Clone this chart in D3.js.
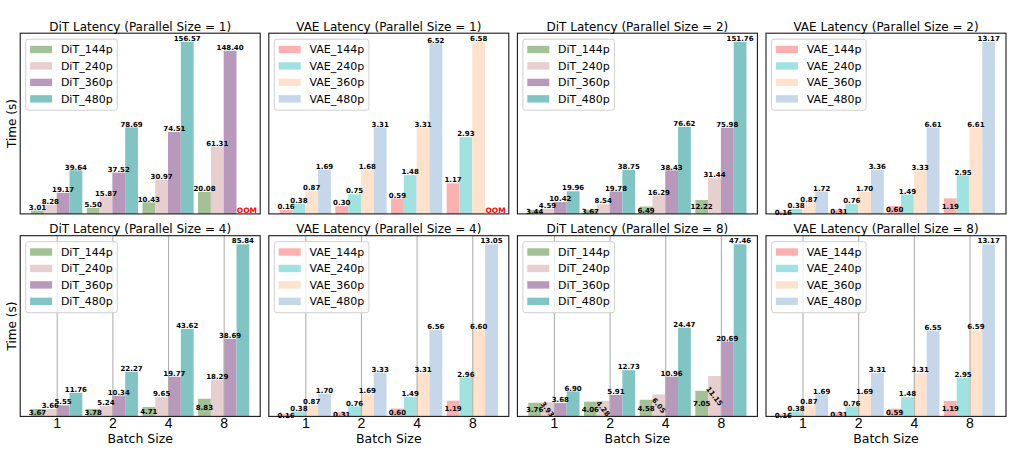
<!DOCTYPE html>
<html lang="en">
<head>
<meta charset="UTF-8" />
<title>DiT / VAE latency by parallel size</title>
<script src="https://d3js.org/d3.v7.min.js"></script>
<style>
  html, body { margin: 0; padding: 0; background: #fff; }
  svg { display: block; font-family: "DejaVu Sans", sans-serif; }
  .frame { fill: none; stroke: #1a1a1a; stroke-width: 1.1px; }
  .grid line { stroke: #b0b0b0; stroke-width: 1.1px; }
  .grid path { display: none; }
  .grid text { font-size: 14px; fill: #000; }
  .barlabel { font-size: 7px; font-weight: bold; fill: #000; }
  .oom { font-size: 7.5px; font-weight: bold; fill: #ff0000; }
</style>
</head>
<body>
<svg id="chart"></svg>
<script>
// ---- data: rows = resolution, columns = batch size ----
const batchSizes = ["1", "2", "4", "8"];
const resolutions = ["144p", "240p", "360p", "480p"];
const parallelSizes = [1, 2, 4, 8];

const ditColors = ["#a2c194", "#e8cfcf", "#b898bb", "#80c4c4"];
const vaeColors = ["#fcb1b0", "#9fe2df", "#fee2cc", "#c5d7e8"];

// null = out of memory
const ditP1 = [[3.01, 5.50, 10.43, 20.08], [8.28, 15.87, 30.97, 61.31], [19.17, 37.52, 74.51, 148.40], [39.64, 78.69, 156.57, null]];
const vaeP1 = [[0.16, 0.30, 0.59, 1.17], [0.38, 0.75, 1.48, 2.93], [0.87, 1.68, 3.31, 6.58], [1.69, 3.31, 6.52, null]];
const ditP2 = [[3.44, 3.67, 6.49, 12.22], [4.59, 8.54, 16.29, 31.44], [10.42, 19.78, 38.43, 75.98], [19.96, 38.75, 76.62, 151.76]];
const vaeP2 = [[0.16, 0.31, 0.60, 1.19], [0.38, 0.76, 1.49, 2.95], [0.87, 1.70, 3.33, 6.61], [1.72, 3.36, 6.61, 13.17]];
const ditP4 = [[3.67, 3.78, 4.71, 8.83], [3.66, 5.24, 9.65, 18.29], [5.55, 10.34, 19.77, 38.69], [11.76, 22.27, 43.62, 85.84]];
const vaeP4 = [[0.16, 0.31, 0.60, 1.19], [0.38, 0.76, 1.49, 2.96], [0.87, 1.69, 3.31, 6.60], [1.70, 3.33, 6.56, 13.05]];
const ditP8 = [[3.76, 4.06, 4.58, 7.05], [3.93, 4.28, 6.05, 11.15], [3.68, 5.91, 10.96, 20.69], [6.90, 12.73, 24.47, 47.46]];
const vaeP8 = [[0.16, 0.31, 0.59, 1.19], [0.38, 0.76, 1.48, 2.95], [0.87, 1.69, 3.31, 6.59], [1.69, 3.31, 6.55, 13.17]];

const panels = [
  { model: "DiT", p: parallelSizes[0], values: ditP1 },
  { model: "VAE", p: parallelSizes[0], values: vaeP1 },
  { model: "DiT", p: parallelSizes[1], values: ditP2 },
  { model: "VAE", p: parallelSizes[1], values: vaeP2 },
  { model: "DiT", p: parallelSizes[2], values: ditP4 },
  { model: "VAE", p: parallelSizes[2], values: vaeP4 },
  { model: "DiT", p: parallelSizes[3], values: ditP8 },
  { model: "VAE", p: parallelSizes[3], values: vaeP8 }
];

// ---- layout ----
const W = 1014, H = 449;
const pw = 240, ph = 180.7;
const colLeft0 = 20.2, colStep = 248.6;
const rowTop = [33.2, 235.7];
const bw = 0.23;  // bar width in category units

const svg = d3.select("#chart").attr("width", W).attr("height", H);

// where a value label goes: on top, in the bar middle, or rotated in the middle
function labelMode(panel, r) {
  if (panel.p === 1) return "top";
  if (r === 0) return "center";
  if (panel.model === "DiT" && panel.p === 8 && r === 1) return "rotated";
  return "top";
}

panels.forEach((panel, k) => {
  const row = Math.floor(k / 4), col = k % 4;
  const g = svg.append("g")
    .attr("transform", `translate(${colLeft0 + col * colStep},${rowTop[row]})`);

  const lo = -1.5 * bw - bw / 2, hi = 3 + 1.5 * bw + bw / 2;
  const pad = 0.05 * (hi - lo);
  const x = d3.scaleLinear().domain([lo - pad, hi + pad]).range([0, pw]);
  const maxV = d3.max(panel.values.flat().filter(v => v != null));
  const y = d3.scaleLinear().domain([0, maxV * 1.05]).range([ph, 0]);
  const colors = panel.model === "DiT" ? ditColors : vaeColors;

  // bars
  panel.values.forEach((series, r) => {
    series.forEach((v, b) => {
      if (v == null) return;
      const cx = b + (r - 1.5) * bw;
      g.append("rect")
        .attr("x", x(cx - bw / 2))
        .attr("y", y(v))
        .attr("width", x(bw) - x(0))
        .attr("height", y(0) - y(v))
        .attr("fill", colors[r]);
    });
  });

  // bottom row: x axis with vertical grid lines
  if (row === 1) {
    g.append("g")
      .attr("class", "grid")
      .attr("transform", `translate(0,${ph})`)
      .call(d3.axisBottom(x)
        .tickValues([0, 1, 2, 3])
        .tickFormat(i => batchSizes[i])
        .tickSize(-ph)
        .tickPadding(2));
    g.append("text")
      .attr("x", pw / 2)
      .attr("y", ph + 26.5)
      .attr("text-anchor", "middle")
      .attr("font-size", 12.5)
      .text("Batch Size");
  }

  // value labels
  panel.values.forEach((series, r) => {
    series.forEach((v, b) => {
      const cx = x(b + (r - 1.5) * bw);
      if (v == null) {
        g.append("text")
          .attr("class", "oom")
          .attr("x", cx + 4)
          .attr("y", y(0) - 0.8)
          .attr("text-anchor", "middle")
          .text("OOM");
        return;
      }
      const mode = labelMode(panel, r);
      const t = g.append("text")
        .attr("class", "barlabel")
        .attr("text-anchor", "middle")
        .text(v.toFixed(2));
      if (mode === "top") {
        t.attr("x", cx).attr("y", y(v) - 0.8);
      } else {
        const cy = (y(v) + y(0)) / 2;
        t.attr("x", cx).attr("y", cy).attr("dy", "0.36em");
        if (mode === "rotated") t.attr("transform", `rotate(52,${cx},${cy})`);
      }
    });
  });

  // frame
  g.append("rect").attr("class", "frame").attr("width", pw).attr("height", ph);

  // title
  g.append("text")
    .attr("x", pw / 2)
    .attr("y", -2.6)
    .attr("text-anchor", "middle")
    .attr("font-size", 12)
    .text(`${panel.model} Latency (Parallel Size = ${panel.p})`);

  // y label on first column
  if (col === 0) {
    g.append("text")
      .attr("transform", `translate(${15.5 - colLeft0},${ph / 2}) rotate(-90)`)
      .attr("text-anchor", "middle")
      .attr("font-size", 12)
      .text("Time (s)");
  }

  // legend
  const lg = g.append("g").attr("transform", "translate(5.5,6)");
  const box = lg.append("rect")
    .attr("rx", 2.5)
    .attr("fill", "#fff").attr("fill-opacity", 0.8)
    .attr("stroke", "#d0d0d0").attr("stroke-width", 1);
  let maxW = 0;
  resolutions.forEach((res, r) => {
    const cy = 10.3 + r * 16.45;
    lg.append("rect")
      .attr("x", 4.4).attr("y", cy - 3.7)
      .attr("width", 22).attr("height", 7.4)
      .attr("fill", colors[r]);
    const t = lg.append("text")
      .attr("x", 35.2).attr("y", cy + 4)
      .attr("font-size", 11)
      .text(`${panel.model}_${res}`);
    maxW = Math.max(maxW, t.node().getComputedTextLength());
  });
  box.attr("width", 35.2 + maxW + 4.6).attr("height", 71);
});
</script>
</body>
</html>
